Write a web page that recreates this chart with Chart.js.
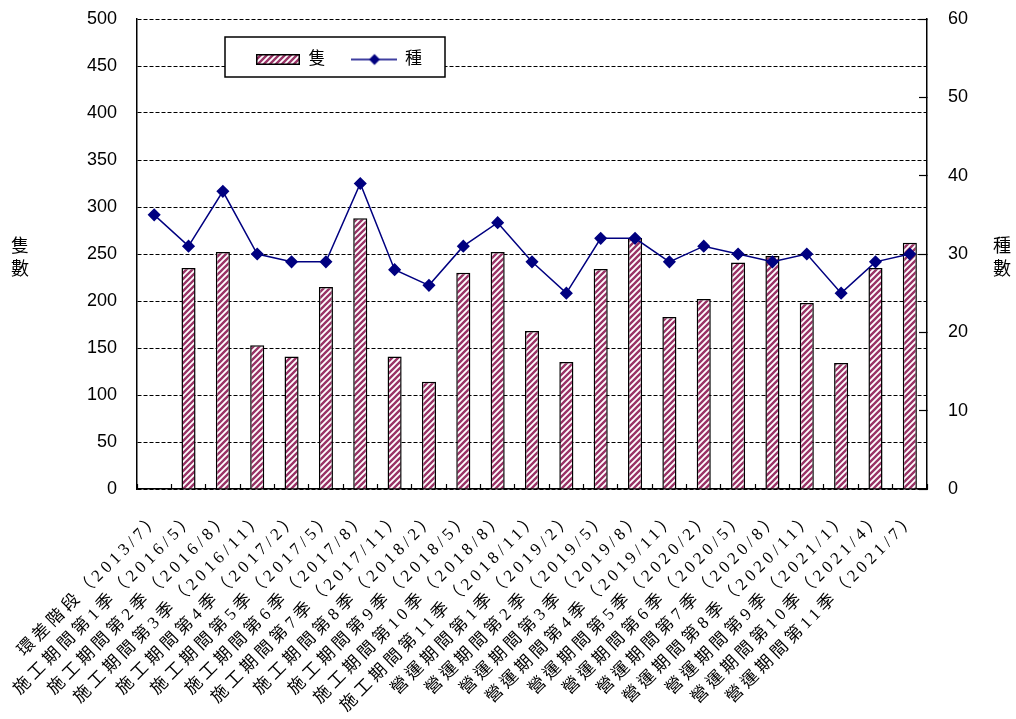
<html lang="zh-Hant">
  <head>
    <meta charset="UTF-8" />
    <title>隻數與種數</title>
    <script src="https://cdn.jsdelivr.net/npm/chart.js@4.4.1/dist/chart.umd.min.js"></script>
    <style>
      body { margin: 0; background: #fff; }
      #wrap { width: 1016px; height: 719px; position: relative; }
    </style>
  </head>
  <body>
    <div id="wrap"><canvas id="chartCanvas"></canvas></div>
    <script>
      // categories
      const periods = [
        "環差階段（2013/7）",
        "施工期間第1季（2016/5）",
        "施工期間第2季（2016/8）",
        "施工期間第3季（2016/11）",
        "施工期間第4季（2017/2）",
        "施工期間第5季（2017/5）",
        "施工期間第6季（2017/8）",
        "施工期間第7季（2017/11）",
        "施工期間第8季（2018/2）",
        "施工期間第9季（2018/5）",
        "施工期間第10季（2018/8）",
        "施工期間第11季（2018/11）",
        "營運期間第1季（2019/2）",
        "營運期間第2季（2019/5）",
        "營運期間第3季（2019/8）",
        "營運期間第4季（2019/11）",
        "營運期間第5季（2020/2）",
        "營運期間第6季（2020/5）",
        "營運期間第7季（2020/8）",
        "營運期間第8季（2020/11）",
        "營運期間第9季（2021/1）",
        "營運期間第10季（2021/4）",
        "營運期間第11季（2021/7）",
      ];

      // 隻 (left axis)
      const countValues = [null, 235, 252, 153, 141, 215, 288, 141, 114, 230, 252, 168,
        135, 234, 267, 183, 202, 241, 248, 198, 134, 235, 262];
      // 種 (right axis)
      const speciesValues = [35, 31, 38, 30, 29, 29, 39, 28, 26, 31, 34, 29,
        25, 32, 32, 29, 31, 30, 29, 30, 25, 29, 30];

      const countLabel = "隻";
      const speciesLabel = "種";
      const leftTitle = ["隻", "數"];
      const rightTitle = ["種", "數"];

      const lineColor = "#000080";
      const stripeColor = "#993366";
      const serifFont = "'Liberation Serif', 'Noto Sans CJK TC', serif";
      const sansFont = "'Liberation Sans', Arial, sans-serif";

      // diagonal stripe pattern for the bars
      function makeStripePattern() {
        const s = 6;
        const c = document.createElement("canvas");
        c.width = s;
        c.height = s;
        const g = c.getContext("2d");
        g.fillStyle = "#fff";
        g.fillRect(0, 0, s, s);
        g.strokeStyle = stripeColor;
        g.lineWidth = 2.4;
        g.beginPath();
        g.moveTo(0, s); g.lineTo(s, 0);
        g.moveTo(-1, 1); g.lineTo(1, -1);
        g.moveTo(s - 1, s + 1); g.lineTo(s + 1, s - 1);
        g.stroke();
        return document.createElement("canvas").getContext("2d").createPattern(c, "repeat");
      }
      const stripes = makeStripePattern();

      // legend swatches
      function barSwatch() {
        const c = document.createElement("canvas");
        c.width = 44; c.height = 11;
        const g = c.getContext("2d");
        g.fillStyle = stripes;
        g.fillRect(0, 0, 44, 11);
        g.strokeStyle = "#000";
        g.lineWidth = 1.5;
        g.strokeRect(0.75, 0.75, 42.5, 9.5);
        return c;
      }
      function lineSwatch() {
        const c = document.createElement("canvas");
        c.width = 46; c.height = 14;
        const g = c.getContext("2d");
        g.strokeStyle = lineColor;
        g.lineWidth = 1.5;
        g.beginPath(); g.moveTo(0, 7); g.lineTo(46, 7); g.stroke();
        g.fillStyle = lineColor;
        g.beginPath();
        g.moveTo(23, 1.5); g.lineTo(28.5, 7); g.lineTo(23, 12.5); g.lineTo(17.5, 7);
        g.closePath(); g.fill();
        return c;
      }

      // x labels get some letter spacing, legend sits in a framed box inside the plot,
      // vertical axis titles
      const extras = {
        id: "extras",
        beforeLayout(chart) {
          const lg = chart.legend;
          if (lg && !lg._flat) {
            const origFit = lg.fit.bind(lg);
            lg.fit = function () { origFit(); this.height = 0; };
            const origDraw = lg.draw.bind(lg);
            lg.draw = function (area) {
              const ctx = chart.ctx;
              ctx.save();
              ctx.fillStyle = "#fff";
              ctx.fillRect(225, 37, 220, 40);
              ctx.strokeStyle = "#000";
              ctx.lineWidth = 1.5;
              ctx.strokeRect(225, 37, 220, 40);
              ctx.restore();
              origDraw(area);
            };
            lg._flat = true;
          }
        },
        afterLayout(chart) {
          const sc = chart.scales.x;
          if (!sc._spaced) {
            const origLabels = sc.drawLabels.bind(sc);
            sc.drawLabels = function (area) {
              const ctx = chart.ctx;
              ctx.save();
              ctx.letterSpacing = "4px";
              origLabels(area);
              ctx.restore();
            };
            sc._spaced = true;
          }
          const lg = chart.legend;
          if (lg) {
            lg.left = 229; lg.top = 24; lg.right = 470; lg.bottom = 77;
            lg.width = lg.right - lg.left; lg.height = lg.bottom - lg.top;
          }
        },
        afterDraw(chart) {
          const ctx = chart.ctx;
          ctx.save();
          ctx.font = "18px " + serifFont;
          ctx.fillStyle = "#000";
          ctx.textAlign = "center";
          ctx.textBaseline = "middle";
          leftTitle.forEach((t, i) => ctx.fillText(t, 20, 247 + i * 23));
          rightTitle.forEach((t, i) => ctx.fillText(t, 1002, 247 + i * 23));
          ctx.restore();
        },
      };

      function noVerticalPadding(scale, w) {
        scale.width = w;
        scale.paddingTop = 0;
        scale.paddingBottom = 0;
      }

      new Chart(document.getElementById("chartCanvas"), {
        data: {
          labels: periods,
          datasets: [
            {
              type: "line",
              label: speciesLabel,
              data: speciesValues,
              yAxisID: "y1",
              order: 0,
              borderColor: lineColor,
              borderWidth: 1.5,
              pointStyle: "rectRot",
              pointRadius: 5.5,
              pointBackgroundColor: lineColor,
              pointBorderColor: lineColor,
              tension: 0,
            },
            {
              type: "bar",
              label: countLabel,
              data: countValues,
              yAxisID: "y",
              order: 1,
              backgroundColor: stripes,
              borderColor: "#000",
              borderWidth: 1.5,
              barPercentage: 0.41,
              categoryPercentage: 1,
            },
          ],
        },
        options: {
          responsive: true,
          maintainAspectRatio: false,
          animation: false,
          layout: { padding: { top: 19, left: 0, right: 0, bottom: 0 } },
          plugins: {
            tooltip: { enabled: false },
            legend: {
              position: "top",
              align: "start",
              labels: {
                usePointStyle: true,
                pointStyleWidth: 44,
                padding: 27,
                color: "#000",
                font: { family: serifFont, size: 17 },
                generateLabels: () => [
                  { text: countLabel, pointStyle: barSwatch(), datasetIndex: 1, hidden: false, lineWidth: 0 },
                  { text: speciesLabel, pointStyle: lineSwatch(), datasetIndex: 0, hidden: false, lineWidth: 0 },
                ],
              },
            },
          },
          scales: {
            x: {
              type: "category",
              offset: true,
              grid: {
                display: true,
                drawOnChartArea: false,
                drawTicks: true,
                tickLength: -5,
                color: "#000",
                tickWidth: 1.2,
              },
              border: { display: true, color: "#000", width: 1.5 },
              ticks: {
                autoSkip: false,
                minRotation: 45,
                maxRotation: 45,
                padding: 23,
                labelOffset: 6,
                color: "#000",
                font: { family: serifFont, size: 17 },
              },
              afterFit: (scale) => { scale.height = 230; },
            },
            y: {
              position: "left",
              min: 0,
              max: 500,
              ticks: {
                stepSize: 50,
                padding: 20,
                color: "#000",
                font: { family: sansFont, size: 18 },
              },
              grid: { color: "#000", lineWidth: 1, drawTicks: false },
              border: { display: true, color: "#000", width: 1.5, dash: [4, 2] },
              afterFit: (scale) => noVerticalPadding(scale, 137),
            },
            y1: {
              position: "right",
              min: 0,
              max: 60,
              ticks: {
                stepSize: 10,
                padding: 29,
                color: "#000",
                font: { family: sansFont, size: 18 },
              },
              grid: {
                drawOnChartArea: false,
                drawTicks: true,
                tickLength: -8,
                color: "#000",
                tickWidth: 1.2,
              },
              border: { display: true, color: "#000", width: 1.5 },
              afterFit: (scale) => noVerticalPadding(scale, 89),
            },
          },
        },
        plugins: [extras],
      });
    </script>
  </body>
</html>
